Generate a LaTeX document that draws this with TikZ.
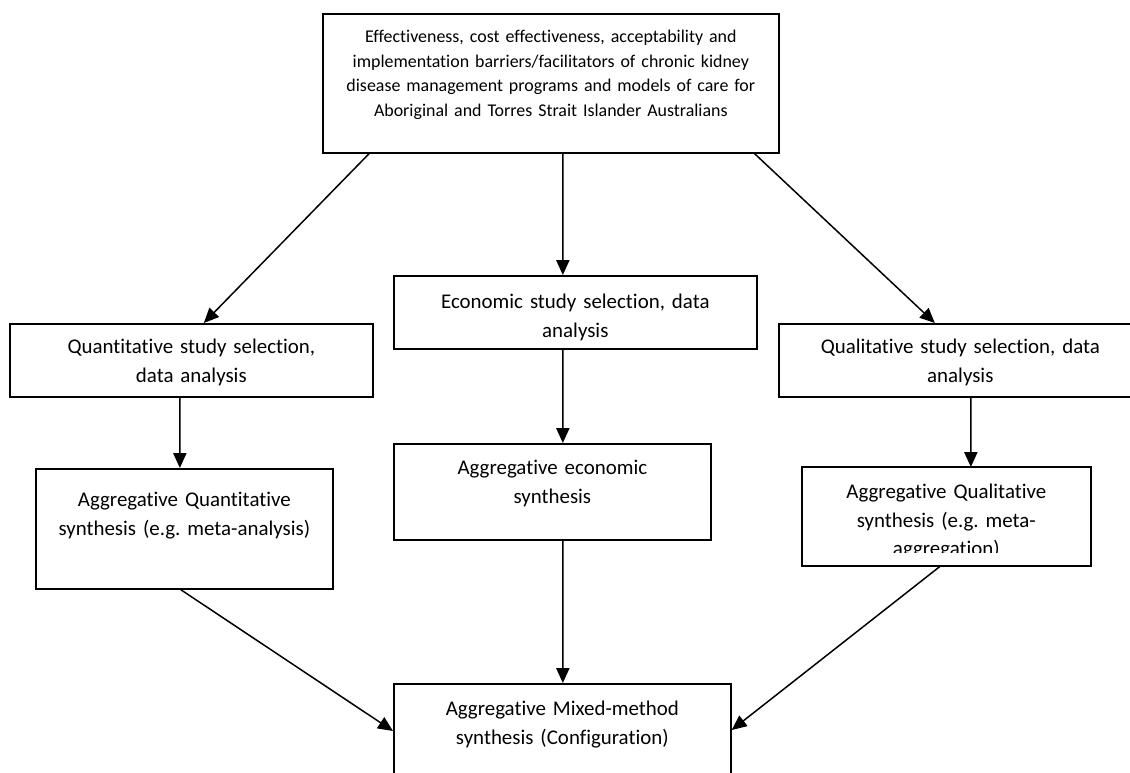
\documentclass[tikz,border=0pt]{standalone}
\usepackage{fontspec}
\setmainfont{Carlito}[Ligatures=CommonOff]
\usetikzlibrary{arrows.meta, calc}
\frenchspacing

\begin{document}
\begin{tikzpicture}[x=0.02cm, y=-0.02cm,
        box/.style={draw, line width=1pt, inner sep=0pt, align=center, anchor=north west,
            font=\fontsize{11.9}{16.2}\selectfont},
        arr/.style={-{Triangle[length=8.5pt,width=7.5pt]}, line width=0.85pt}]
    \useasboundingbox (0,0) rectangle (1130,773);

    % review question
    \node[box, text width=9.12cm, text height=0.58cm, text depth=2.2cm,
        font=\fontsize{10.2}{13.9}\selectfont] (aim) at (322,13)
        {Effectiveness, cost effectiveness, acceptability and\\
        implementation barriers/facilitators of chronic kidney\\
        disease management programs and models of care for\\
        Aboriginal and Torres Strait Islander Australians};

    % three streams
    \node[box, text width=7.26cm, text height=0.60cm, text depth=0.86cm] (quantsel) at (9,323)
        {Quantitative study selection,\\ data analysis};
    \node[box, text width=7.26cm, text height=0.66cm, text depth=0.80cm] (econsel) at (393,275)
        {Economic study selection, data\\ analysis};
    \node[box, text width=7.26cm, text height=0.60cm, text depth=0.86cm] (qualsel) at (778,323)
        {Qualitative study selection, data\\ analysis};

    \node[box, text width=5.94cm, text height=0.76cm, text depth=1.64cm] (aggquant) at (35,468)
        {Aggregative Quantitative\\ synthesis (e.g. meta-analysis)};
    \node[box, text width=6.34cm, text height=0.62cm, text depth=1.30cm] (aggecon) at (393,443)
        {Aggregative economic\\ synthesis};
    \begin{scope}
        \clip (802,467) rectangle (1089,553);
        \node[box, draw=none, text width=5.74cm, text height=0.62cm, text depth=1.32cm] (aggqual) at (802,467)
            {Aggregative Qualitative\\ synthesis (e.g. meta-\\ aggregation)};
    \end{scope}
    \draw[line width=1pt] (aggqual.north west) rectangle (aggqual.south east);

    % mixed-method synthesis
    \node[box, text width=6.74cm, text height=0.64cm, text depth=2.0cm] (mixed) at (393,683)
        {Aggregative Mixed-method\\ synthesis (Configuration)};

    \draw[arr] ($(aim.south west)+(47,0)$) -- ($(quantsel.north)+(12.5,0)$);
    \draw[arr] ($(aim.south)+(12,0)$) -- ($(econsel.north)+(-12.5,0)$);
    \draw[arr] ($(aim.south east)+(-25,0)$) -- ($(qualsel.north)+(-25.5,0)$);

    \draw[arr] ($(quantsel.south)+(-11.5,0)$) -- ($(aggquant.north)+(-4.5,0)$);
    \draw[arr] ($(econsel.south)+(-12.5,0)$) -- ($(aggecon.north)+(10.5,0)$);
    \draw[arr] ($(qualsel.south)+(10.5,0)$) -- ($(aggqual.north)+(24.5,0)$);

    \draw[arr] ($(aggquant.south)+(-3.5,0)$) -- ($(mixed.north west)+(0,48)$);
    \draw[arr] ($(aggecon.south)+(10.5,0)$) -- ($(mixed.north)+(0.5,0)$);
    \draw[arr] ($(aggqual.south)+(-5.5,0)$) -- ($(mixed.north east)+(0,47)$);
\end{tikzpicture}
\end{document}
